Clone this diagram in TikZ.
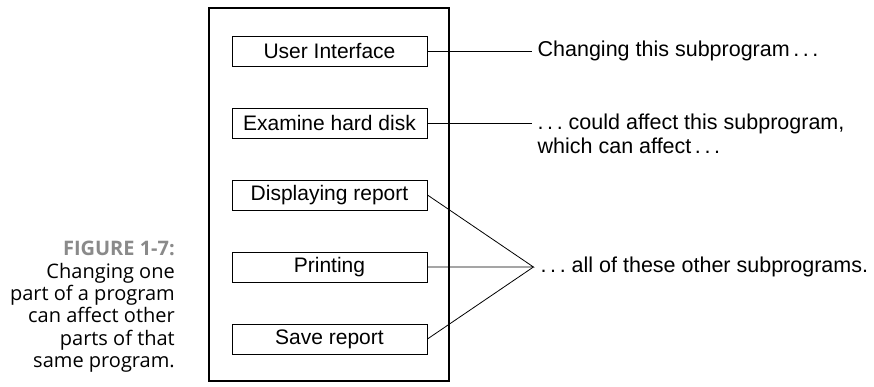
\documentclass[tikz,border=0pt]{standalone}
\usepackage{fontspec}
\setmainfont{Liberation Sans}
\newfontfamily\capfont{Open Sans}
\usepackage{tikz}
\usetikzlibrary{positioning}
\definecolor{capgray}{HTML}{8A8A8A}
\tikzset{
  sub/.style={draw, line width=0.9pt, minimum width=195pt, minimum height=30pt, inner sep=0pt, font=\fontsize{21}{24}\selectfont},
  note/.style={inner sep=0pt, align=left, font=\fontsize{21.5}{24.5}\selectfont},
  link/.style={line width=0.8pt}
}

\begin{document}
\begin{tikzpicture}[x=1pt,y=1pt]
  \useasboundingbox (0,0) rectangle (874,387);
  % program frame and its subprograms
  \draw[line width=1.8pt] (209,6) rectangle (449,379);
  \node[sub] (ui) at (329.5,336) {User Interface};
  \node[sub] (disk) at (329.5,264) {Examine hard disk};
  \node[sub] (show) at (329.5,192) {Displaying report};
  \node[sub] (print) at (329.5,120) {Printing};
  \node[sub] (save) at (329.5,48) {Save report};
  % where the lines end
  \coordinate[right=105pt of ui.east] (j1);
  \coordinate[right=105pt of disk.east] (j2);
  \coordinate[right=106pt of print.east] (j3);
  \draw[link] (ui.east) -- (j1);
  \draw[link] (disk.east) -- (j2);
  \draw[link] (show.east) -- (j3) -- (print.east);
  \draw[link] (save.east) -- (j3);
  \node[note, right=5pt of j1] (t1) {Changing this subprogram\,.\,.\,.};
  \node[note, right=5pt of j2, yshift=-11pt] (t2) {.\,.\,.\ could affect this subprogram,\\which can affect\,.\,.\,.};
  \node[note, right=7pt of j3] (t3) {.\,.\,.\ all of these other subprograms.};
  % caption
  \node[anchor=north east, inner sep=0pt, align=right, font=\capfont\fontsize{20}{22.4}\selectfont] (cap) at (175,146)
    {{\bfseries\color{capgray}FIGURE 1-7:}\\Changing one\\part of a program\\can affect other\\parts of that\\same program.};
\end{tikzpicture}
\end{document}
